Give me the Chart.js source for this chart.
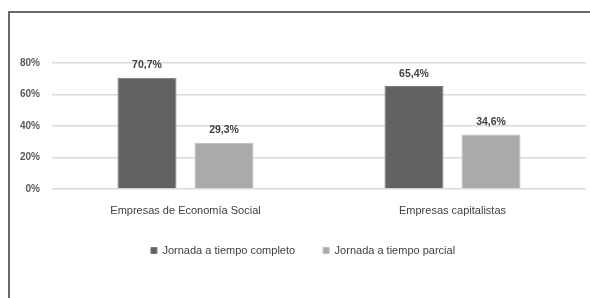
<!DOCTYPE html>
<html>
<head>
<meta charset="utf-8">
<script src="https://cdn.jsdelivr.net/npm/chart.js"></script>
<style>
  html, body { margin: 0; padding: 0; background: #fff; overflow: hidden; }
  #wrap { position: relative; width: 590px; height: 298px; }
  #frame { position: absolute; left: 8px; top: 11px; right: 0; bottom: 0;
           border-top: 2px solid #6a6a6a; border-left: 2px solid #6a6a6a; }
  canvas { position: absolute; left: 0; top: 0; }
</style>
</head>
<body>
<div id="wrap">
  <div id="frame"></div>
  <canvas id="chart" width="590" height="298"></canvas>
</div>
<script>
const categories = ['Empresas de Economía Social', 'Empresas capitalistas'];
const seriesNames = ['Jornada a tiempo completo', 'Jornada a tiempo parcial'];
const fullTime = [70.7, 65.4];
const partTime = [29.3, 34.6];
const yTicks = [0, 20, 40, 60, 80];

const fontFamily = '"Liberation Sans", Arial, sans-serif';

// labels above each bar, "70,7%" style
const valueLabels = {
  id: 'valueLabels',
  afterDatasetsDraw(chart) {
    const ctx = chart.ctx;
    ctx.save();
    ctx.font = 'bold 10.5px ' + fontFamily;
    ctx.fillStyle = '#404040';
    ctx.textAlign = 'center';
    ctx.textBaseline = 'bottom';
    chart.data.datasets.forEach((ds, i) => {
      chart.getDatasetMeta(i).data.forEach((bar, j) => {
        const txt = ds.data[j].toFixed(1).replace('.', ',') + '%';
        ctx.fillText(txt, bar.x, bar.y - 7);
      });
    });
    ctx.restore();
  }
};

// the legend sits a little right of the canvas centre in the original
const legendShift = {
  id: 'legendShift',
  afterLayout(chart) {
    chart.legend.left += 10;
    chart.legend.right += 10;
  }
};

new Chart(document.getElementById('chart'), {
  type: 'bar',
  data: {
    labels: categories,
    datasets: [
      { label: seriesNames[0], data: fullTime, backgroundColor: '#626262', borderColor: '#7a7a7a', borderWidth: 1 },
      { label: seriesNames[1], data: partTime, backgroundColor: '#aaaaaa', borderColor: '#bdbdbd', borderWidth: 1 }
    ]
  },
  options: {
    responsive: false,
    animation: false,
    categoryPercentage: 0.577,
    barPercentage: 0.766,
    layout: { padding: { top: 63, right: 4, left: 0, bottom: 32 } },
    scales: {
      x: {
        grid: { display: false, drawTicks: false },
        border: { display: false },
        ticks: { color: '#404040', font: { family: fontFamily, size: 11 }, padding: 15 },
        afterFit(s) { s.height = 28; }
      },
      y: {
        min: 0, max: 80,
        afterBuildTicks(s) { s.ticks = yTicks.map(v => ({ value: v })); },
        afterFit(s) { s.width = 52; },
        grid: { color: '#dadada', lineWidth: 1.5, drawTicks: false },
        border: { display: false },
        ticks: { color: '#595959', font: { family: fontFamily, size: 10, weight: 'bold' }, padding: 12,
                 callback: v => v + '%' }
      }
    },
    plugins: {
      legend: {
        position: 'bottom',
        labels: { color: '#404040', font: { family: fontFamily, size: 11 }, boxWidth: 6, boxHeight: 6, padding: 28 }
      },
      tooltip: { enabled: false }
    }
  },
  plugins: [valueLabels, legendShift]
});
</script>
</body>
</html>
